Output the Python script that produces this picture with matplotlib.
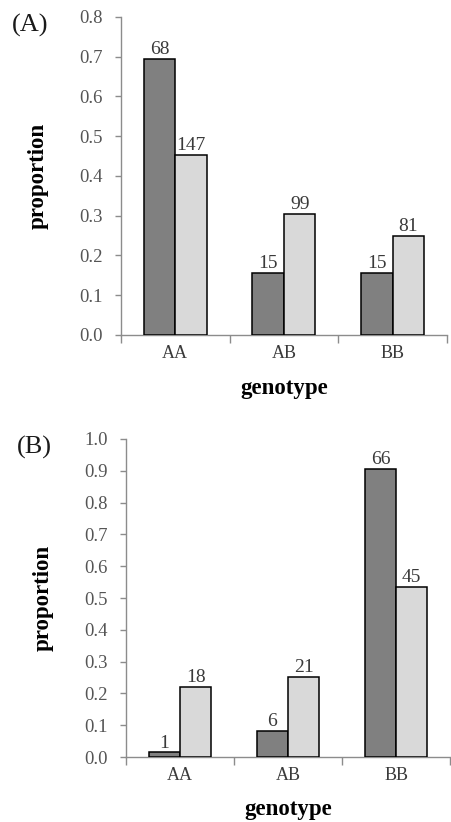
import matplotlib.pyplot as plt

genotypes = ["AA", "AB", "BB"]

# panel A
a_dark = [0.695, 0.156, 0.156]
a_light = [0.453, 0.305, 0.249]
a_dark_n = ["68", "15", "15"]
a_light_n = ["147", "99", "81"]

# panel B
b_dark = [0.015, 0.082, 0.906]
b_light = [0.220, 0.252, 0.535]
b_dark_n = ["1", "6", "66"]
b_light_n = ["18", "21", "45"]

plt.rcParams['font.family'] = ['Liberation Serif', 'DejaVu Serif']

DARK = "#808080"
LIGHT = "#d9d9d9"
GREY = "#8c8c8c"
TXT = "#3a3a3a"


def panel(ax, dark, light, dark_n, light_n, ymax, letter, ylpad, xlpad):
	w = 0.29
	x = range(len(genotypes))
	xd = [i - w / 2 for i in x]
	xl = [i + w / 2 for i in x]
	ax.bar(xd, dark, w, color=DARK, edgecolor="black", linewidth=1.1, zorder=3)
	ax.bar(xl, light, w, color=LIGHT, edgecolor="black", linewidth=1.1, zorder=3)
	for xx, v, t in zip(xd, dark, dark_n):
		ax.annotate(t, (xx, v), xytext=(0, 0.5), textcoords="offset points",
			ha="center", va="bottom", fontsize=14, color=TXT)
	for xx, v, t in zip(xl, light, light_n):
		ax.annotate(t, (xx, v), xytext=(0, 0.5), textcoords="offset points",
			ha="center", va="bottom", fontsize=14, color=TXT)

	ax.set_xlim(-0.5, 2.5)
	ax.set_ylim(0, ymax)
	n = int(round(ymax * 10)) + 1
	ax.set_yticks([i / 10 for i in range(n)])
	ax.set_yticklabels([f"{i / 10:.1f}" for i in range(n)])
	ax.set_xticks([-0.5, 0.5, 1.5, 2.5])
	ax.set_xticklabels([])
	ax.set_xticks(list(x), minor=True)
	ax.set_xticklabels(genotypes, minor=True)
	ax.tick_params(axis="x", which="major", length=6, color=GREY, width=1)
	ax.tick_params(axis="x", which="minor", length=0, pad=7, labelsize=13, labelcolor=TXT)
	ax.tick_params(axis="y", length=4, color=GREY, width=1, labelsize=13.5, labelcolor="#555555", pad=9)
	for s in ["top", "right"]:
		ax.spines[s].set_visible(False)
	for s in ["left", "bottom"]:
		ax.spines[s].set_color(GREY)
		ax.spines[s].set_linewidth(1)
	ax.set_ylabel("proportion", fontsize=16.5, fontweight="bold", labelpad=ylpad)
	ax.set_xlabel("genotype", fontsize=16.5, fontweight="bold", labelpad=xlpad)
	ax.text(-0.335, 1.01, letter, transform=ax.transAxes, fontsize=19, va="top", ha="left", color="#1a1a1a")


fig = plt.figure(figsize=(4.51, 8.22), dpi=100)
ax1 = fig.add_axes([0.268, 0.5925, 0.723, 0.3869])
ax2 = fig.add_axes([0.279, 0.079, 0.719, 0.387])
panel(ax1, a_dark, a_light, a_dark_n, a_light_n, 0.8, "(A)", 22, 12)
panel(ax2, b_dark, b_light, b_dark_n, b_light_n, 1.0, "(B)", 22, 11)

fig.savefig("out.png", dpi=100)
